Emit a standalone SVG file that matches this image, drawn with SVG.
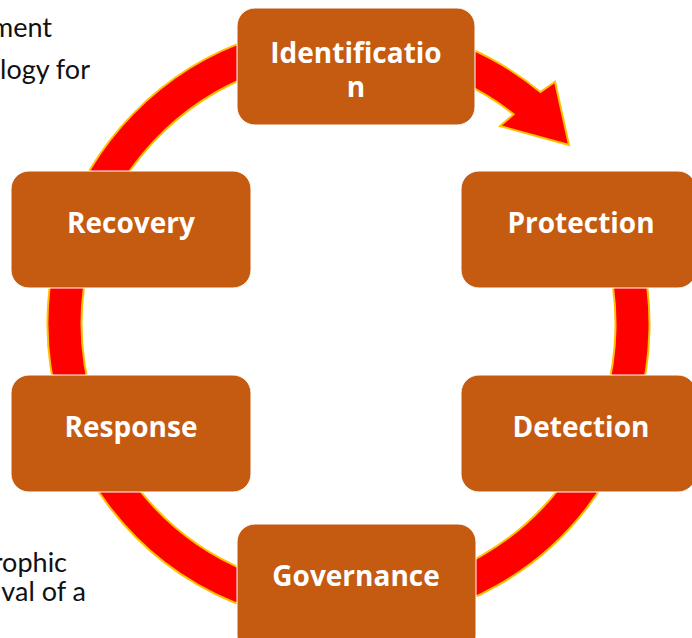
<svg xmlns="http://www.w3.org/2000/svg" width="692" height="638" viewBox="0 0 692 638">
  <style>
    .box { fill: #C55A11; stroke: #FFFFFF; stroke-width: 1; }
    .label { font-family: "Open Sans", "Noto Sans", "DejaVu Sans", sans-serif; font-weight: bold; font-size: 28px; fill: #FFFFFF; text-anchor: middle; }
    .side { font-family: Lato, "Open Sans", "Liberation Sans", sans-serif; font-size: 27px; fill: #111111; text-anchor: end; }
    .ring { fill: #FF0000; stroke: #FFC000; stroke-width: 2; stroke-linejoin: miter; }
  </style>

  <rect width="692" height="638" fill="#FFFFFF"/>

  <!-- clipped paragraph text at the left margin -->
  <g id="side-text">
    <text class="side" x="52" y="37">ment</text>
    <text class="side" x="90" y="79">logy for</text>
    <text class="side" x="67" y="572">rophic</text>
    <text class="side" x="86" y="601">val of a</text>
  </g>

  <!-- circular arrow running clockwise behind the stages -->
  <g id="connectors">
    <path class="ring" d="M 621.3 196.8 A 301 301 0 1 1 540.4 92.1 L 555 81.7 L 569 145 L 500 126 L 513.6 114.2 A 267 267 0 1 0 590.5 211.2 Z"/>
  </g>

  <g id="identification">
    <rect class="box" x="237" y="8" width="238" height="117" rx="18"/>
    <text class="label" x="356" y="63">Identificatio</text>
    <text class="label" x="356" y="97">n</text>
  </g>

  <g id="protection">
    <rect class="box" x="461" y="171" width="235" height="117" rx="18"/>
    <text class="label" x="581" y="233">Protection</text>
  </g>

  <g id="detection">
    <rect class="box" x="461" y="375" width="235" height="117" rx="18"/>
    <text class="label" x="581" y="437">Detection</text>
  </g>

  <g id="governance">
    <rect class="box" x="237" y="524" width="239" height="130" rx="18"/>
    <text class="label" x="356" y="586">Governance</text>
  </g>

  <g id="response">
    <rect class="box" x="11" y="375" width="240" height="117" rx="18"/>
    <text class="label" x="131" y="437">Response</text>
  </g>

  <g id="recovery">
    <rect class="box" x="11" y="171" width="240" height="117" rx="18"/>
    <text class="label" x="131" y="233">Recovery</text>
  </g>
</svg>
